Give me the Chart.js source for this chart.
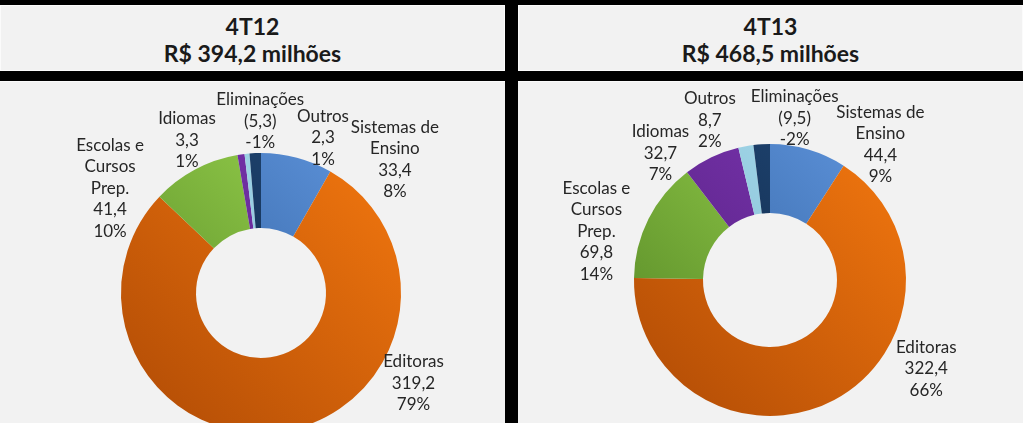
<!DOCTYPE html>
<html>
<head>
<meta charset="utf-8">
<script src="https://cdn.jsdelivr.net/npm/chart.js@4.4.0/dist/chart.umd.min.js"></script>
<style>
  html, body { margin: 0; padding: 0; background: #000; overflow: hidden; }
  #page { position: relative; width: 1023px; height: 423px; background: #000; }
  .title {
    position: absolute; top: 5px; height: 66px; background: #f2f2f2;
    box-shadow: inset 0 0 0 1px #fbfbfb;
    font-family: Lato, "Open Sans", sans-serif; font-weight: bold; font-size: 23px;
    color: #1a1a1a; text-align: center; line-height: 27px;
    display: flex; flex-direction: column; justify-content: center;
    padding-top: 4px; box-sizing: border-box;
  }
  .panel {
    position: absolute; top: 81px; height: 342px; width: 505px; overflow: hidden;
    background: #f2f2f2; box-shadow: inset 0 1px 0 #fbfbfb;
  }
  .panel canvas { position: absolute; left: 0; top: 0; }
</style>
</head>
<body>
<div id="page">
  <div class="title" style="left:0; width:505px;"><div>4T12</div><div>R$ 394,2 milhões</div></div>
  <div class="title" style="left:518px; width:505px;"><div>4T13</div><div>R$ 468,5 milhões</div></div>
  <div class="panel" style="left:0;"><canvas id="chart4T12" width="505" height="420"></canvas></div>
  <div class="panel" style="left:518px;"><canvas id="chart4T13" width="505" height="420"></canvas></div>
</div>
<script>
// segments in drawing order, clockwise from 12 o'clock
const categories = ["Sistemas de Ensino", "Editoras", "Escolas e Cursos Prep.", "Idiomas", "Outros", "Eliminações"];
const labelLines = [["Sistemas de", "Ensino"], ["Editoras"], ["Escolas e", "Cursos", "Prep."], ["Idiomas"], ["Outros"], ["Eliminações"]];
const values4T12 = [33.4, 319.2, 41.4, 3.3, 2.3, -5.3];
const values4T13 = [44.4, 322.4, 69.8, 32.7, 8.7, -9.5];

const lightColors = ["#5a8fd6", "#ec730e", "#96d04c", "#7a34b0", "#a6d8ea", "#1f4572"];
const darkColors = ["#2c5b98", "#b64f06", "#5a8c28", "#52207c", "#7cbad0", "#0e2442"];

// label block shift from the outer middle point of each slice
const nudges4T12 = [[98, 2], [132, -48], [-85, 19], [-54, -14], [76, -16], [5, -32]];
const nudges4T13 = [[72, -5], [92, -31], [-52, 12], [-51, -4], [-36, -26], [33, -26]];

const fmt = (v) => {
  const s = Math.abs(v).toFixed(1).replace(".", ",");
  return v < 0 ? "(" + s + ")" : s;
};

const outsideLabels = {
  id: "outsideLabels",
  afterDatasetsDraw(chart, args, opts) {
    const ctx = chart.ctx;
    const meta = chart.getDatasetMeta(0);
    const vals = opts.values;
    const total = vals.reduce((s, v) => s + Math.abs(v), 0);
    ctx.save();
    ctx.font = "17px Lato, 'Open Sans', sans-serif";
    ctx.fillStyle = "#262626";
    ctx.textAlign = "center";
    ctx.textBaseline = "middle";
    meta.data.forEach((arc, i) => {
      const p = arc.getProps(["x", "y", "startAngle", "endAngle", "outerRadius"], true);
      const mid = (p.startAngle + p.endAngle) / 2;
      const cx = p.x + Math.cos(mid) * p.outerRadius + opts.nudges[i][0];
      const cy = p.y + Math.sin(mid) * p.outerRadius + opts.nudges[i][1];
      const pct = Math.round(vals[i] / total * 100) + "%";
      const lines = [...labelLines[i], fmt(vals[i]), pct];
      const lh = 21.5;
      lines.forEach((t, k) => ctx.fillText(t, cx, cy + (k - (lines.length - 1) / 2) * lh));
    });
    ctx.restore();
  }
};

function shade(c) {
  const a = c.chart.chartArea;
  if (!a) return darkColors[c.dataIndex];
  const g = c.chart.ctx.createLinearGradient(a.right, a.top, a.left, a.bottom);
  g.addColorStop(0.1, lightColors[c.dataIndex]);
  g.addColorStop(0.9, darkColors[c.dataIndex]);
  return g;
}

function makeDonut(id, values, nudges, radius, cutout, padding) {
  new Chart(document.getElementById(id), {
    type: "doughnut",
    data: {
      labels: categories,
      datasets: [{
        data: values.map(Math.abs),
        backgroundColor: shade,
        borderWidth: 0,
        hoverOffset: 0,
        offset: 0
      }]
    },
    options: {
      responsive: false,
      animation: false,
      radius: radius,
      cutout: cutout,
      layout: { padding: padding },
      plugins: {
        legend: { display: false },
        tooltip: { enabled: false },
        outsideLabels: { values: values, nudges: nudges }
      }
    },
    plugins: [outsideLabels]
  });
}

makeDonut("chart4T12", values4T12, nudges4T12, 140, 65, { left: 121, right: 104, top: 72, bottom: 68 });
makeDonut("chart4T13", values4T13, nudges4T13, 136, 67, { left: 116, right: 117, top: 63, bottom: 85 });
</script>
</body>
</html>
